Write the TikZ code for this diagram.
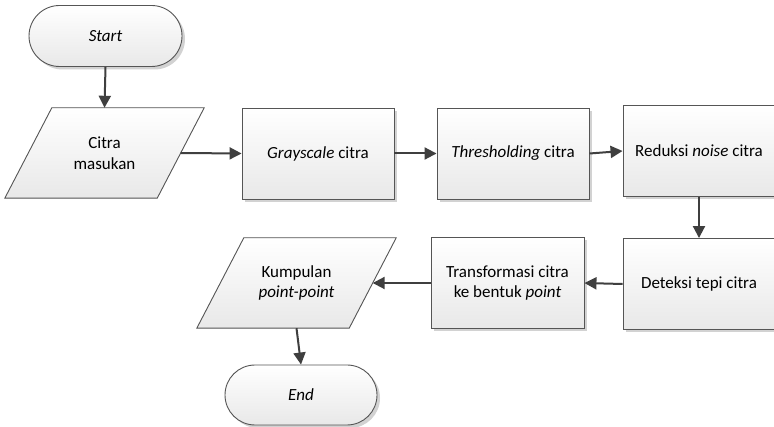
\documentclass[tikz,border=0pt]{standalone}
\usepackage{fontspec}
\setmainfont{Carlito}
\usetikzlibrary{arrows.meta,shapes.misc,shadows,backgrounds}
\definecolor{edgegray}{HTML}{3F3F3F}
\definecolor{linegray}{HTML}{555555}
\definecolor{shadowgray}{HTML}{D2D2D2}
\begin{document}
\begin{tikzpicture}[x=1pt,y=-1pt,
  boxlook/.style={draw=linegray, line width=0.9pt, top color=white, bottom color=black!9},
  flowbase/.style={boxlook,
    font=\fontsize{17}{20.5}\selectfont, align=center, inner sep=0pt,
    drop shadow={shadow xshift=3pt, shadow yshift=-3pt, fill=shadowgray, opacity=1}},
  process/.style={flowbase, rectangle, minimum width=152pt, minimum height=91pt},
  terminal/.style={flowbase, rounded rectangle, minimum width=153pt, minimum height=61pt},
  inout/.style={rectangle, font=\fontsize{17}{20.5}\selectfont, align=center, inner sep=0pt,
    minimum width=152pt, minimum height=90pt},
  conn/.style={draw=edgegray, line width=2pt, -{Triangle[length=12pt,width=12pt]}}]
\clip (0,0) rectangle (774,427);
\useasboundingbox (0,0) rectangle (774,427);

\node[terminal] (start) at (105.5,36) {\itshape Start};
\node[inout] (input) at (104.5,153) {Citra\\masukan};
\node[process] (gray) at (318,153.5) {\textit{Grayscale} citra};
\node[process] (thr) at (513,153.5) {\textit{Thresholding} citra};
\node[process] (red) at (699,151) {Reduksi \textit{noise} citra};
\node[process] (det) at (699,284) {Deteksi tepi citra};
\node[process, minimum width=153pt] (trans) at (507.5,283) {Transformasi citra\\ke bentuk \textit{point}};
\node[inout] (pts) at (296.5,283) {Kumpulan\\\textit{point-point}};
\node[terminal, minimum width=152pt, minimum height=60pt] (end) at (301,395) {\itshape End};

% parallelogram outlines (data symbols) behind their text nodes
\begin{scope}[on background layer]
  \fill[white] (0,0) rectangle (774,427);
  \foreach \n in {input,pts} {
    \fill[shadowgray, xshift=3pt, yshift=3pt]
      ([xshift=23.5pt]\n.north west) -- ([xshift=23.5pt]\n.north east)
      -- ([xshift=-23.5pt]\n.south east) -- ([xshift=-23.5pt]\n.south west) -- cycle;
    \path[boxlook]
      ([xshift=23.5pt]\n.north west) -- ([xshift=23.5pt]\n.north east)
      -- ([xshift=-23.5pt]\n.south east) -- ([xshift=-23.5pt]\n.south west) -- cycle;
  }
\end{scope}

\draw[conn] (start.south) -- (input.north);
\draw[conn] (input.east) -- (gray.west);
\draw[conn] (gray.east) -- (thr.west);
\draw[conn] (thr.east) -- (red.west);
\draw[conn] (red.south) -- (det.north);
\draw[conn] (det.west) -- (trans.east);
\draw[conn] (trans.west) -- (pts.east);
\draw[conn] (pts.south) -- (end.north);
\end{tikzpicture}
\end{document}
